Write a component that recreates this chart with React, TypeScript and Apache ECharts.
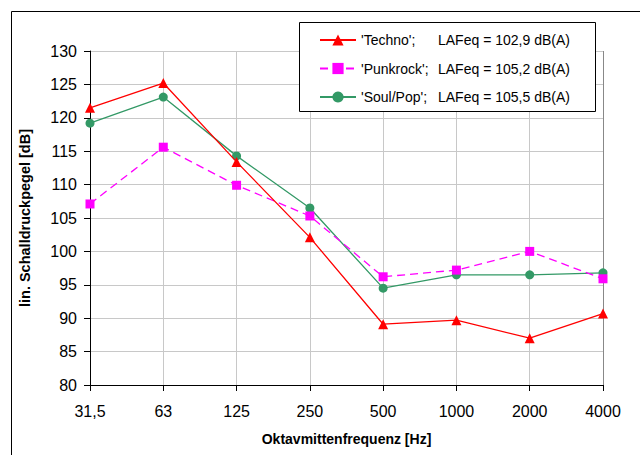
import React, { useEffect, useRef } from "react";
import * as echarts from "echarts";

const categories = ["31,5", "63", "125", "250", "500", "1000", "2000", "4000"];
const seriesNames = ["Techno", "Punkrock", "Soul/Pop"];
const legendLabels = ["LAFeq = 102,9 dB(A)", "LAFeq = 105,2 dB(A)", "LAFeq = 105,5 dB(A)"];
const techno = [121.5, 125.2, 113.4, 102.1, 89.1, 89.7, 87.0, 90.7];
const punkrock = [107.1, 115.6, 109.9, 105.3, 96.2, 97.2, 100.0, 95.9];
const soulPop = [119.2, 123.1, 114.3, 106.5, 94.5, 96.5, 96.5, 96.8];
const yTicks = { min: 80, max: 130, interval: 5 };

const FONT = "'Liberation Sans', Arial, sans-serif";

export default function App() {
  const ref = useRef<HTMLDivElement>(null);
  useEffect(() => {
    if (!ref.current) return;
    const chart = echarts.init(ref.current, null, { renderer: "svg" });
    const values = [techno, punkrock, soulPop];
    const colors = ["#ff0000", "#ff00ff", "#339966"];
    const symbols = ["triangle", "rect", "circle"];
    const symbolSizes = [10, 9, 9];
    const lineTypes: any[] = ["solid", [8, 5], "solid"];
    chart.setOption({
      animation: false,
      backgroundColor: "#ffffff",
      textStyle: { fontFamily: FONT },
      grid: { left: 90, right: 37, top: 51, bottom: 70, containLabel: false },
      xAxis: {
        type: "category",
        data: categories,
        boundaryGap: false,
        name: "Oktavmittenfrequenz [Hz]",
        nameLocation: "middle",
        nameGap: 47,
        nameTextStyle: { fontFamily: FONT, fontWeight: "bold", fontSize: 14, color: "#000" },
        axisLine: { lineStyle: { color: "#000", width: 1 } },
        axisTick: { show: true, inside: false, length: 6, alignWithLabel: true, lineStyle: { color: "#000" } },
        axisLabel: { fontFamily: FONT, fontSize: 16, color: "#000", margin: 18 },
        splitLine: { show: true, lineStyle: { color: "#c8c8c8", width: 1 } },
      },
      yAxis: {
        type: "value",
        min: yTicks.min,
        max: yTicks.max,
        interval: yTicks.interval,
        name: "lin. Schalldruckpegel [dB]",
        nameLocation: "middle",
        nameGap: 58,
        nameRotate: 90,
        nameTextStyle: { fontFamily: FONT, fontWeight: "bold", fontSize: 14.5, color: "#000" },
        axisLine: { show: true, lineStyle: { color: "#000", width: 1 } },
        axisTick: { show: true, inside: false, length: 6, lineStyle: { color: "#000" } },
        axisLabel: { fontFamily: FONT, fontSize: 16, color: "#000", margin: 13 },
        splitLine: { show: true, lineStyle: { color: "#c8c8c8", width: 1 } },
      },
      legend: {
        show: true,
        orient: "vertical",
        left: 319,
        top: 33,
        itemWidth: 36,
        itemHeight: 14,
        itemGap: 14.5,
        padding: 0,
        data: seriesNames,
        formatter: (name: string) => {
          const i = seriesNames.indexOf(name);
          return "{a|'" + name + "';}{b|" + legendLabels[i] + "}";
        },
        textStyle: {
          fontFamily: FONT,
          fontSize: 14,
          color: "#000",
          rich: {
            a: { width: 77, fontFamily: FONT, fontSize: 14, color: "#000" },
            b: { fontFamily: FONT, fontSize: 14, color: "#000" },
          },
        },
        z: 10,
      },
      graphic: [
        {
          type: "rect",
          z: 100,
          silent: true,
          shape: { x: 11.5, y: 11.5, width: 660, height: 480 },
          style: { fill: "none", stroke: "#000", lineWidth: 1 },
        },
        {
          type: "rect",
          z: 5,
          silent: true,
          shape: { x: 299.5, y: 22.5, width: 296, height: 89 },
          style: { fill: "#fff", stroke: "#000", lineWidth: 1 },
        },
        {
          type: "line",
          z: 1,
          silent: true,
          shape: { x1: 603.5, y1: 51, x2: 603.5, y2: 385 },
          style: { stroke: "#888", lineWidth: 1 },
        },
      ],
      series: seriesNames.map((name, i) => ({
        name,
        type: "line",
        data: values[i],
        symbol: symbols[i],
        symbolSize: symbolSizes[i],
        showAllSymbol: true,
        itemStyle: { color: colors[i] },
        lineStyle: { color: colors[i], width: 1.3, type: lineTypes[i] },
        z: 3 + (2 - i),
      })),
    });
    return () => chart.dispose();
  }, []);
  return (
    <div
      ref={ref}
      style={{ position: "absolute", left: 0, top: 0, width: 640, height: 455 }}
    />
  );
}
